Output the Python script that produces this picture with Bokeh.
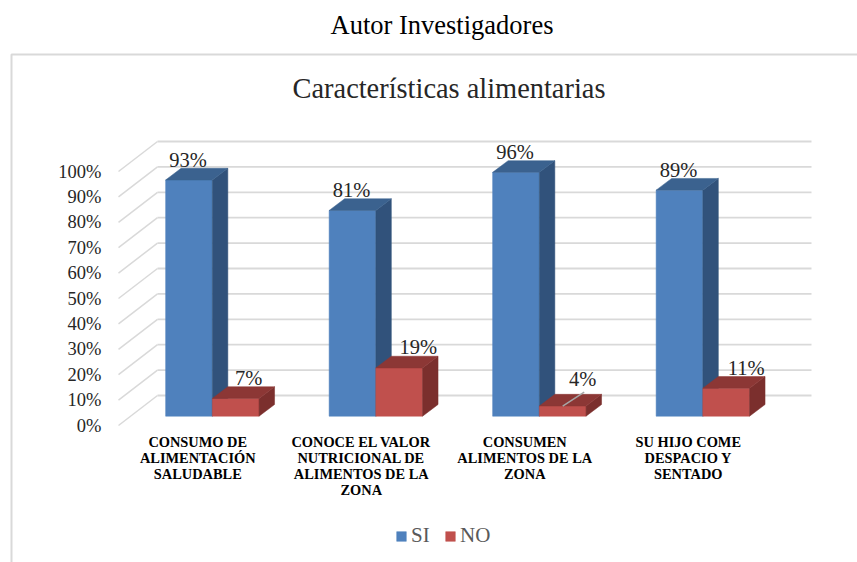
from bokeh.plotting import figure
from bokeh.embed import file_html
from bokeh.resources import INLINE
from bokeh.models import (ColumnDataSource, LinearAxis, FixedTicker, Label, Legend, LegendItem,
                          BoxAnnotation)
from bokeh.core.properties import value

# ---------- data ----------
categories = ["CONSUMO DE\nALIMENTACIÓN\nSALUDABLE",
              "CONOCE EL VALOR\nNUTRICIONAL DE\nALIMENTOS DE LA\nZONA",
              "CONSUMEN\nALIMENTOS DE LA\nZONA",
              "SU HIJO COME\nDESPACIO Y\nSENTADO"]
si_values = [93, 81, 96, 89]
no_values = [7, 19, 4, 11]
y_ticks = [0, 10, 20, 30, 40, 50, 60, 70, 80, 90, 100]
y_tick_labels = ["0%", "10%", "20%", "30%", "40%", "50%", "60%", "70%", "80%", "90%", "100%"]
series_names = ["SI", "NO"]
chart_title = "Características alimentarias"
caption = "Autor Investigadores"

# ---------- layout (pixels of the page) ----------
W, H = 857, 562
PAGE = 0
X0_PX, Y0_PX = 118.0, 425.0      # floor front-left corner
SLOT_PX, PCT_PX = 163.5, 2.54    # px per category, px per percent
DEPTH_DX, DEPTH_DY = 39.0, 30.0  # wall depth
BAR_IN = 0.31                    # bar front plane, share of wall depth
BAR_DX, BAR_DY = 15.5, 11.7      # bar depth
BAR_W_PX = 46.7
FONT = "Liberation Serif"

def xd(px):   # page px -> x data
    return (px - X0_PX) / SLOT_PX
def yd(py):   # page px -> y data
    return (Y0_PX - py) / PCT_PX

p = figure(width=W, height=H, output_backend="svg", toolbar_location=None,
           x_axis_type=None, y_axis_type=None, min_border=0,
           x_range=(xd(PAGE), xd(PAGE + W)), y_range=(yd(PAGE + H), yd(PAGE)),
           background_fill_color="white", border_fill_color="white")
p.outline_line_color = None
p.grid.visible = False

GRID = "#D9D9D9"
ddx, ddy = DEPTH_DX / SLOT_PX, DEPTH_DY / PCT_PX
bdx, bdy = BAR_DX / SLOT_PX, BAR_DY / PCT_PX
bw = BAR_W_PX / SLOT_PX
n = len(categories)

# back wall gridlines and left wall diagonals
p.segment(x0=[ddx] * len(y_ticks), y0=[v + ddy for v in y_ticks],
          x1=[ddx + n] * len(y_ticks), y1=[v + ddy for v in y_ticks],
          line_color=GRID, line_width=1.8)
p.segment(x0=[0] * len(y_ticks), y0=y_ticks,
          x1=[ddx] * len(y_ticks), y1=[v + ddy for v in y_ticks],
          line_color=GRID, line_width=1.5)

# bars
fx = BAR_IN * ddx
fy = BAR_IN * ddy
def draw(vals, lefts, front, side, top):
    bottoms = [fy] * len(vals)
    tops = [v + fy for v in vals]
    r = p.quad(left=lefts, right=[l + bw for l in lefts], bottom=bottoms, top=tops,
               fill_color=front, line_color=front, line_width=0.5)
    p.patches(xs=[[l + bw, l + bw + bdx, l + bw + bdx, l + bw] for l in lefts],
              ys=[[b, b + bdy, t + bdy, t] for b, t in zip(bottoms, tops)],
              fill_color=side, line_color=side, line_width=0.5)
    p.patches(xs=[[l, l + bw, l + bw + bdx, l + bdx] for l in lefts],
              ys=[[t, t, t + bdy, t + bdy] for t in tops],
              fill_color=top, line_color=top, line_width=0.5)
    return r

si_left = [fx + i + 0.5 - bw for i in range(n)]
no_left = [fx + i + 0.5 for i in range(n)]
r_si = draw(si_values, si_left, "#4F81BD", "#31527B", "#3B628F")
r_no = draw(no_values, no_left, "#C0504D", "#7B2F2D", "#8C3735")

# leader line of the 4% label
k = no_values.index(4)
lx = no_left[k] + bw / 2
ly = no_values[k] + fy
p.segment(x0=[lx], y0=[ly], x1=[lx + 21.5 / SLOT_PX], y1=[ly + 14 / PCT_PX],
          line_color="#A6A6A6", line_width=1.5)

# value labels
lab_x = [l + bw / 2 for l in si_left] + [l + bw / 2 for l in no_left]
lab_y = [v + fy for v in si_values] + [v + fy for v in no_values]
lab_t = [f"{v}%" for v in si_values] + [f"{v}%" for v in no_values]
lab_xo = [-1, -1, -1, -1, 13, 19, 20, 20]
lab_yo = [-20, -20, -20.5, -20, -20.5, -20.5, -27.5, -20.5]
p.text(x="x", y="y", text="t", x_offset="xo", y_offset="yo",
       source=ColumnDataSource(dict(x=lab_x, y=lab_y, t=lab_t, xo=lab_xo, yo=lab_yo)),
       text_font=value(FONT), text_font_size="20.5px", text_color="#262626",
       text_align="center", text_baseline="middle")

# axes
ya = LinearAxis(ticker=FixedTicker(ticks=y_ticks), fixed_location=0,
                major_label_overrides=dict(zip(y_ticks, y_tick_labels)),
                axis_line_color=None, major_tick_line_color=None, minor_tick_line_color=None,
                major_label_standoff=11, major_label_text_font=FONT,
                major_label_text_font_size="18.5px", major_label_text_color="#262626")
p.add_layout(ya, "left")

LABEL_SHIFT = 2.5 / SLOT_PX
x_ticks = [i + 0.5 - LABEL_SHIFT for i in range(n)]
xa = LinearAxis(ticker=FixedTicker(ticks=x_ticks), fixed_location=0,
                major_label_overrides=dict(zip(x_ticks, categories)),
                axis_line_color=None, major_tick_line_color=None, minor_tick_line_color=None,
                major_label_standoff=2, major_label_text_font=FONT,
                major_label_text_font_style="bold",
                major_label_text_font_size="14.4px", major_label_text_color="#000000",
                major_label_text_line_height=1.0)
p.add_layout(xa, "below")

# chart frame
p.add_layout(BoxAnnotation(left=xd(11), right=xd(900), top=yd(54), bottom=yd(700),
                           fill_alpha=0, line_color=GRID, line_alpha=1, line_width=2))

# titles
p.add_layout(Label(x=xd(441.5), y=yd(24.5), text=caption, text_font=FONT, text_font_size="26.5px",
                   text_color="#000000", text_align="center", text_baseline="middle"))
p.add_layout(Label(x=xd(448.5), y=yd(87.5), text=chart_title, text_font=FONT, text_font_size="28.4px",
                   text_color="#262626", text_align="center", text_baseline="middle"))

# legend
legend = Legend(items=[LegendItem(label=series_names[0], renderers=[r_si]),
                       LegendItem(label=series_names[1], renderers=[r_no])],
                orientation="horizontal", location=(395, 562 - 548),
                background_fill_alpha=0, border_line_color=None, padding=0, margin=0,
                glyph_width=12, glyph_height=12, label_standoff=4, spacing=13,
                label_text_font=FONT, label_text_font_size="21px", label_text_color="#595959",
                label_height=20)
p.add_layout(legend, "center")

open("out.html", "w").write(file_html(p, INLINE))
